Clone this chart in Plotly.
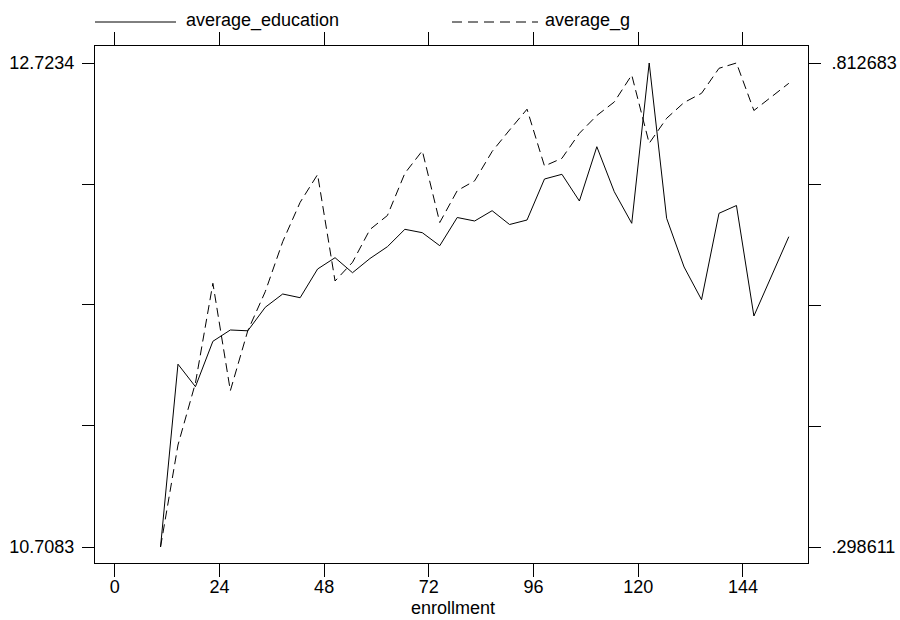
import plotly.graph_objects as go

# ---- data ----
enrollment = [10.5 + 4 * k for k in range(37)]
average_education = [
    10.7083, 11.4694, 11.3757, 11.5647, 11.6118, 11.6084, 11.7063, 11.7616,
    11.7462, 11.8657, 11.9128, 11.8503, 11.9094, 11.9586, 12.0310, 12.0169,
    11.9627, 12.0801, 12.0656, 12.1085, 12.0510, 12.0697, 12.2404, 12.2600,
    12.1488, 12.3749, 12.1876, 12.0560, 12.7234, 12.0768, 11.8741, 11.7379,
    12.0976, 12.1301, 11.6700, 11.8353, 12.0002,
]
average_g = [
    0.298611, 0.40695, 0.47280, 0.57869, 0.46462, 0.52835, 0.56977, 0.62288,
    0.66473, 0.69425, 0.58114, 0.60100, 0.63584, 0.65071, 0.69553, 0.71943,
    0.64327, 0.67705, 0.68756, 0.71868, 0.74152, 0.76361, 0.70328, 0.71146,
    0.73801, 0.75692, 0.77126, 0.79994, 0.72739, 0.75395, 0.77073, 0.78050,
    0.80705, 0.812683, 0.76223, 0.77689, 0.79112,
]
x_ticks = [0, 24, 48, 72, 96, 120, 144]
left_tickvals = [10.7083, 11.2121, 11.7159, 12.2196, 12.7234]
left_ticktext = ["10.7083", "", "", "", "12.7234"]
right_tickvals = [0.298611, 0.427129, 0.555647, 0.684165, 0.812683]
right_ticktext = [".298611", "", "", "", ".812683"]

FONT = "Liberation Sans, Arial, sans-serif"
FS = 18

fig = go.Figure()
fig.add_trace(go.Scatter(
    x=enrollment, y=average_education, name="average_education",
    mode="lines", line=dict(color="black", width=1), yaxis="y",
))
fig.add_trace(go.Scatter(
    x=enrollment, y=average_g, name="average_g",
    mode="lines", line=dict(color="black", width=1, dash="9px,5px"), yaxis="y2",
))

# padded ranges so end ticks sit inside the frame like the reference
def padded(lo, hi, pad_lo_px, pad_hi_px, span_px):
    per = (hi - lo) / span_px
    return [lo - pad_lo_px * per, hi + pad_hi_px * per]

yr = padded(left_tickvals[0], left_tickvals[-1], 16, 17, 484)
y2r = padded(right_tickvals[0], right_tickvals[-1], 16, 17, 484)

fig.update_layout(
    width=900, height=620,
    margin=dict(l=95, r=92, t=46, b=57, autoexpand=False),
    paper_bgcolor="white", plot_bgcolor="white",
    font=dict(family=FONT, size=FS, color="black"),
    showlegend=False,
    xaxis=dict(
        range=[-4.52, 158.9], tickvals=x_ticks, ticktext=[str(v) for v in x_ticks],
        ticks="outside", ticklen=13, tickwidth=1, tickcolor="black",
        showline=True, linecolor="black", linewidth=1, mirror="ticks",
        showgrid=False, zeroline=False, automargin=False,
        tickfont=dict(size=FS), ticklabelstandoff=-6,
    ),
    yaxis=dict(
        range=yr, tickvals=left_tickvals, ticktext=left_ticktext,
        ticks="outside", ticklen=12, tickwidth=1, tickcolor="black",
        showline=True, linecolor="black", linewidth=1, mirror=True,
        showgrid=False, zeroline=False, tickfont=dict(size=FS),
        ticklabelstandoff=4, automargin=False,
    ),
    yaxis2=dict(
        range=y2r, tickvals=right_tickvals, ticktext=right_ticktext,
        overlaying="y", side="right",
        ticks="outside", ticklen=12, tickwidth=1, tickcolor="black",
        showline=True, linecolor="black", linewidth=1,
        showgrid=False, zeroline=False, tickfont=dict(size=FS),
        ticklabelstandoff=7, automargin=False,
    ),
)

# x axis title placed just under the tick labels
fig.add_annotation(text="enrollment", xref="paper", yref="paper",
                   x=(453 - 95) / 713, y=-(608 - 563) / 517,
                   xanchor="center", yanchor="middle", showarrow=False,
                   font=dict(size=FS, family=FONT, color="black"))

# legend drawn above the frame (line samples + labels)
legend_items = [("average_education", "solid", 95, 176, 184),
                ("average_g", "10px,6px", 452, 538, 543)]
for label, dash, x0, x1, tx in legend_items:
    fig.add_shape(type="line", xref="paper", yref="paper",
                  x0=(x0 - 95) / 713, x1=(x1 - 95) / 713,
                  y0=(563 - 22) / 517, y1=(563 - 22) / 517,
                  line=dict(color="black", width=1, dash=dash))
    fig.add_annotation(text=label, xref="paper", yref="paper",
                       x=(tx - 95) / 713, y=(563 - 21) / 517,
                       xanchor="left", yanchor="middle", showarrow=False,
                       font=dict(size=FS, family=FONT, color="black"))

fig.write_html("out.html")
